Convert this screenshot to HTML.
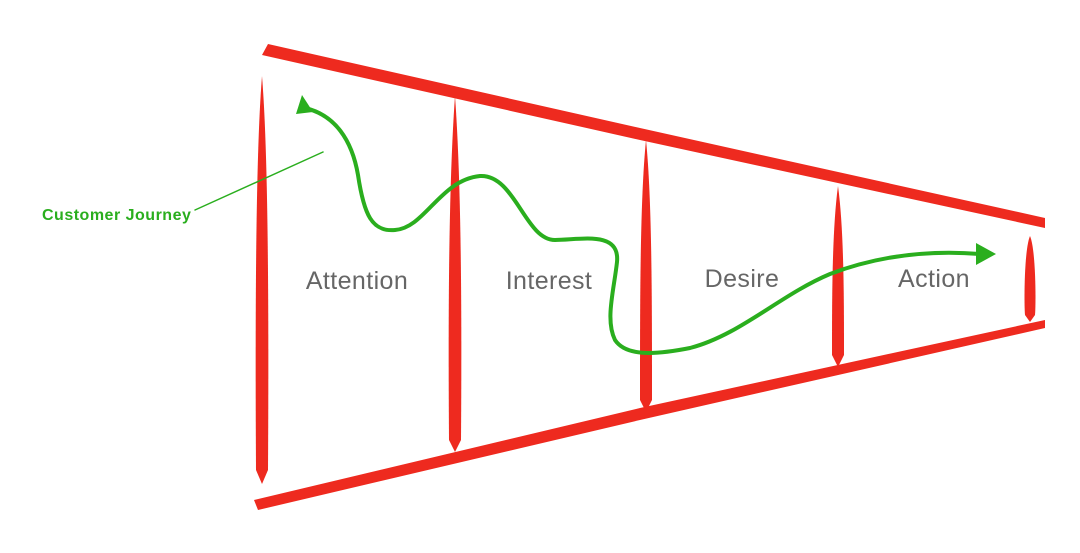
<!DOCTYPE html>
<html><head><style>
html,body{margin:0;padding:0;background:#fff;}
svg{display:block;}
</style></head><body>
<svg width="1080" height="553" viewBox="0 0 1080 553" xmlns="http://www.w3.org/2000/svg">
<g fill="#ee2a1f">
  <polygon points="268,44 640,128 1045,218 1045,228 640,140 262,55"/>
  <polygon points="254,500 640,408 1045,320 1045,328 640,420 258,510"/>
  <path d="M262,76 C268,150 269,300 268,470 L262,484 L256,470 C255,300 256,150 262,76Z"/>
  <path d="M455,96 C461,180 462,300 461,440 L455,452 L449,440 C448,300 449,180 455,96Z"/>
  <path d="M646,140 C652,200 652,300 652,400 L646,412 L640,400 C640,300 640,200 646,140Z"/>
  <path d="M838,186 C844,230 844,300 844,355 L838,367 L832,355 C832,300 832,230 838,186Z"/>
  <path d="M1030,236 C1036,250 1036,305 1035,315 L1030,322 L1025,315 C1024,305 1024,250 1030,236Z"/>
</g>
<g font-family="Liberation Sans, sans-serif" font-size="25" letter-spacing="0.4" fill="#666" text-anchor="middle">
  <text x="357" y="289">Attention</text>
  <text x="549" y="289">Interest</text>
  <text x="742" y="287">Desire</text>
  <text x="934" y="287">Action</text>
</g>
<g stroke="#2aae1e" fill="none" stroke-linecap="round">
  <line x1="195" y1="210" x2="323" y2="152" stroke-width="1.5"/>
  <path d="M305,108 C335,115 352,140 358,175 C364,215 372,232 395,230 C425,228 440,180 480,176 C515,174 525,240 555,240 C580,240 620,230 617,262 C614,290 605,320 615,340 C625,355 650,356 690,348 C740,335 780,295 830,274 C880,255 930,250 980,254" stroke-width="4"/>
</g>
<g fill="#2aae1e">
  <polygon points="296,114 302,95 313,112"/>
  <polygon points="976,243 996,254 976,265"/>
</g>
<text x="42" y="220" font-family="Liberation Sans, sans-serif" font-size="16" letter-spacing="0.5" font-weight="bold" fill="#2aae1e">Customer Journey</text>
</svg>
</body></html>
